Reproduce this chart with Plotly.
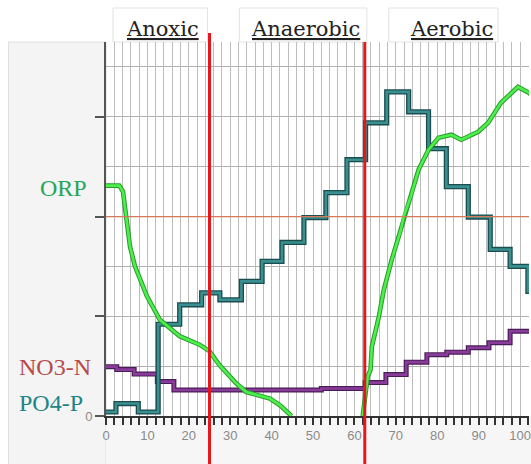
import plotly.graph_objects as go

# ---- data ----
# ORP (two visible segments)
orp_anoxic_x = [0, 3.2, 4.1, 4.8, 5.8, 7.0, 9.9, 13.0, 17.8, 22.6, 25.0, 27.4, 31.5, 33.9, 37.2, 39.6, 42.1, 44.8]
orp_anoxic_y = [4.62, 4.62, 4.5, 4.0, 3.4, 3.0, 2.4, 1.93, 1.6, 1.43, 1.3, 1.02, 0.65, 0.48, 0.41, 0.35, 0.21, 0.0]
orp_aerobic_x = [62.0, 63.2, 63.9, 64.2, 65.9, 67.1, 69.0, 71.2, 71.9, 73.6, 75.5, 77.9, 80.3, 83.4, 85.8, 89.9, 92.3, 95.4, 99.5, 102.2, 104]
orp_aerobic_y = [0.0, 0.79, 0.93, 1.39, 1.99, 2.53, 3.13, 3.73, 4.0, 4.4, 4.94, 5.34, 5.58, 5.64, 5.54, 5.7, 5.88, 6.28, 6.6, 6.48, 6.3]

# PO4-P step series (step start, level)
po4_x = [0, 2.4, 7.8, 12.6, 17.8, 23.1, 27.5, 32.7, 37.7, 42.5, 47.8, 53.1, 58.2, 62.7, 67.8, 73.1, 77.9, 82.2, 87.5, 92.8, 97.6, 101.9, 105]
po4_y = [0.08, 0.25, 0.08, 1.84, 2.23, 2.47, 2.33, 2.7, 3.1, 3.48, 3.98, 4.48, 5.14, 5.88, 6.5, 6.1, 5.36, 4.6, 3.99, 3.34, 3.0, 2.5, 2.5]

# NO3-N step series
no3_x = [0, 2.6, 6.8, 12.4, 16.4, 52.0, 62.6, 67.6, 72.5, 77.5, 82.3, 87.5, 92.5, 97.6, 105]
no3_y = [0.99, 0.93, 0.84, 0.69, 0.52, 0.55, 0.67, 0.83, 1.08, 1.23, 1.28, 1.37, 1.47, 1.7, 1.7]

phase_bounds = [25.0, 62.5]
phase_names = ["Anoxic", "Anaerobic", "Aerobic"]
phase_label_x = [13.6, 48.3, 83.4]
ref_level = 4

series_labels = ["ORP", "NO3-N", "PO4-P"]
series_label_y = [4.58, 0.98, 0.27]
series_label_colors = ["#25a659", "#b84a4c", "#1d8585"]

W, H = 531, 464
ML, MR, MT, MB = 106, 0, 42, H - 416
X_RANGE = [0, (W - ML) / 4.16]
Y_RANGE = [0, 7.5]

fig = go.Figure()

def add_line(x, y, inner, outer, wi, wo, shape="linear"):
    fig.add_trace(go.Scatter(x=x, y=y, mode="lines", line=dict(color=outer, width=wo, shape=shape),
                             hoverinfo="skip", showlegend=False, cliponaxis=True))
    fig.add_trace(go.Scatter(x=x, y=y, mode="lines", line=dict(color=inner, width=wi, shape=shape),
                             hoverinfo="skip", showlegend=False, cliponaxis=True))

add_line(no3_x, no3_y, "#8a3c9a", "#4a1c58", 2.6, 5, "hv")
add_line(po4_x, po4_y, "#3a8f90", "#1b4c4e", 2.6, 5.2, "hv")
add_line(orp_anoxic_x, orp_anoxic_y, "#4cf04c", "#2a9a2a", 2.6, 4.6)
add_line(orp_aerobic_x, orp_aerobic_y, "#4cf04c", "#2a9a2a", 2.6, 4.6)

PW = W - ML - MR
PH = H - MT - MB
px = lambda p: (p - ML) / PW
py = lambda p: (H - MB - p) / PH

shapes = []
# left label panel
shapes.append(dict(type="rect", xref="paper", yref="paper", x0=px(8), x1=px(106), y0=py(470), y1=py(42),
                   fillcolor="#f4f4f4", line=dict(color="#dedede", width=1), layer="below"))
shapes.append(dict(type="rect", xref="paper", yref="paper", x0=px(106), x1=px(540), y0=py(470), y1=py(416),
                   fillcolor="#f6f6f6", line=dict(width=0), layer="below"))
# header boxes
for a, b in [(1.7, 24.5), (32.2, 63.0), (68.3, 94.7)]:
    shapes.append(dict(type="rect", xref="x", yref="paper", x0=a, x1=b, y0=1.0, y1=py(8),
                       fillcolor="white", line=dict(color="#e2e2e2", width=1), layer="below"))
# reference level line
shapes.append(dict(type="line", xref="paper", yref="y", x0=0, x1=1, y0=ref_level, y1=ref_level,
                   line=dict(color="#d47a5a", width=1.2), layer="above"))
# phase boundaries
tops = [py(33), py(42)]
for xb, top in zip(phase_bounds, tops):
    shapes.append(dict(type="line", xref="x", yref="paper", x0=xb, x1=xb, y0=py(470), y1=top,
                       line=dict(color="#e8161b", width=3), layer="above"))

annotations = []
for name, xc in zip(phase_names, phase_label_x):
    annotations.append(dict(x=xc, xref="x", y=py(29), yref="paper", text=name, showarrow=False,
                            xanchor="center", yanchor="middle",
                            font=dict(family="DejaVu Serif", size=21, color="#222222", lineposition="under")))
left_edges = [38, 16.7, 16.7]
for name, yv, col, le in zip(series_labels, series_label_y, series_label_colors, left_edges):
    annotations.append(dict(x=px(le), xref="paper", y=yv, yref="y", text=name, showarrow=False,
                            xanchor="left", yanchor="middle",
                            font=dict(family="Liberation Serif", size=24, color=col)))

fig.update_layout(
    width=W, height=H, margin=dict(l=ML, r=MR, t=MT, b=MB, pad=0),
    paper_bgcolor="white", plot_bgcolor="white",
    shapes=shapes, annotations=annotations, showlegend=False,
    xaxis=dict(range=X_RANGE, dtick=10, tick0=0, showgrid=True, gridcolor="#bdbdbd", gridwidth=1.2,
               zeroline=False, showline=True, linecolor="#333333", linewidth=1.6,
               ticks="outside", ticklen=7, tickwidth=1.5, tickcolor="#333333",
               ticklabeloverflow="allow",
               tickfont=dict(family="Liberation Sans", size=13, color="#8a8a8a"),
               minor=dict(dtick=2, tick0=0, showgrid=True, gridcolor="#bdbdbd", gridwidth=1.2,
                          ticks="outside", ticklen=7, tickwidth=1.5, tickcolor="#333333"),
               fixedrange=True),
    yaxis=dict(range=Y_RANGE, tickvals=[0, 2, 4, 6], ticktext=["0", "", "", ""],
               showgrid=True, gridcolor="#b0b0b0", gridwidth=1, zeroline=False,
               showline=True, linecolor="#555555", linewidth=1.6,
               ticks="outside", ticklen=9, tickwidth=1.5, tickcolor="#555555",
               tickfont=dict(family="Liberation Sans", size=13, color="#8a8a8a"),
               minor=dict(dtick=1, tick0=0, showgrid=True, gridcolor="#b0b0b0", gridwidth=1),
               fixedrange=True),
)

fig.write_html("out.html", config={"displayModeBar": False},
               post_script="document.body.style.margin='0px';document.body.style.overflow='hidden';")
